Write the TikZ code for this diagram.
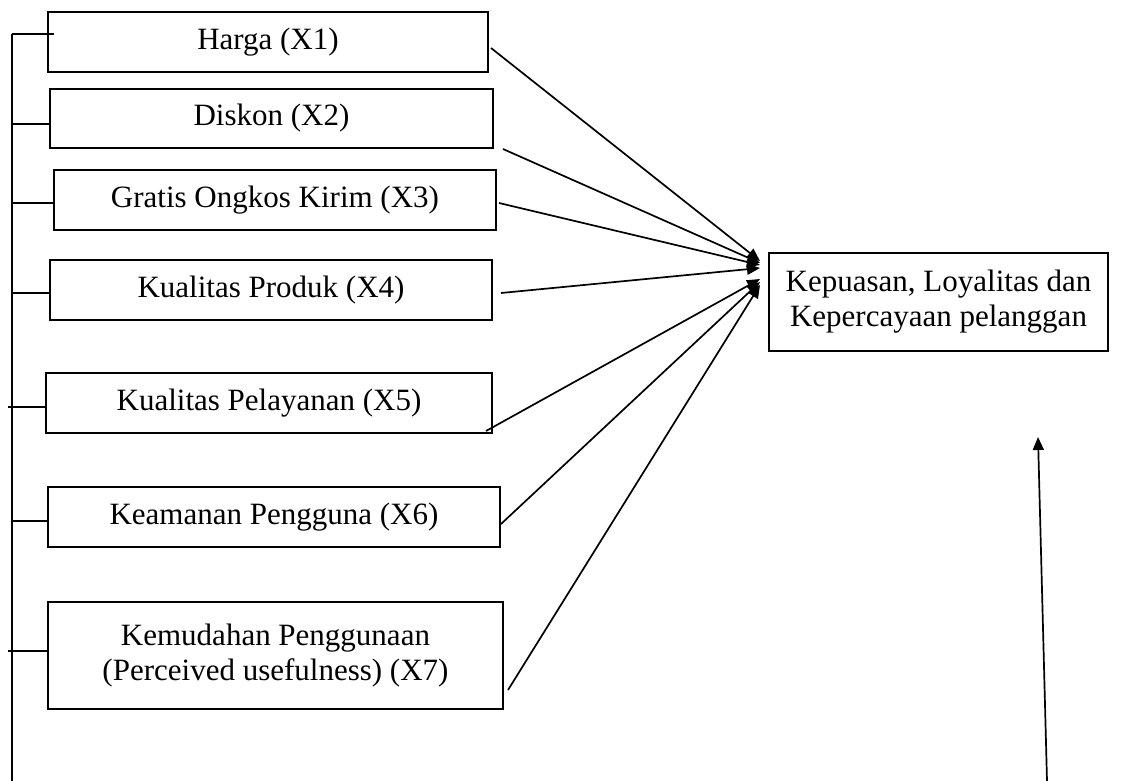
\documentclass[tikz,border=0pt]{standalone}
\usepackage{fontspec}
\setmainfont{Liberation Serif}
\usetikzlibrary{arrows.meta,calc}
\begin{document}
\begin{tikzpicture}[x=1pt,y=-1pt,
  box/.style={draw,line width=2pt,minimum height=60pt,inner sep=0pt,align=center,font=\fontsize{31}{35}\selectfont},
  link/.style={line width=1.8pt},
  conn/.style={line width=1.7pt,-{Triangle[length=13pt,width=11pt]}}]
\useasboundingbox (0,0) rectangle (1138,781);
% input boxes
\node[box,minimum width=440pt] (x1) at (268,42) {Harga (X1)};
\node[box,minimum width=443pt,minimum height=59pt] (x2) at (271.5,118.5) {Diskon (X2)};
\node[box,minimum width=442pt] (x3) at (275,200) {Gratis Ongkos Kirim (X3)};
\node[box,minimum width=442pt] (x4) at (271,290) {Kualitas Produk (X4)};
\node[box,minimum width=446pt] (x5) at (269,403) {Kualitas Pelayanan (X5)};
\node[box,minimum width=452pt] (x6) at (274,517) {Keamanan Pengguna (X6)};
\node[box,minimum width=455pt,minimum height=107pt] (x7) at (275.5,655.5) {Kemudahan Penggunaan\\(Perceived usefulness) (X7)};
% target box
\node[box,minimum width=339pt,minimum height=98pt] (y) at (938.5,302) {Kepuasan, Loyalitas dan\\Kepercayaan pelanggan};
% spine
\coordinate (s0) at (12,34);
\coordinate (s8) at (12,781);
\coordinate (s2) at (12,124);
\coordinate (s3) at (12,203);
\coordinate (s4) at (12,293);
\coordinate (s5) at (12,407);
\coordinate (s6) at (12,521);
\coordinate (s7) at (12,651);
\draw[link] (s0) -- (s8);
\draw[link] (s0) -- ([xshift=7pt]x1.west |- s0);
\draw[link] (s2) -- (x2.west |- s2);
\draw[link] (s3) -- (x3.west |- s3);
\draw[link] (s4) -- (x4.west |- s4);
\draw[link] ([xshift=-4pt]s5) -- (x5.west |- s5);
\draw[link] (s6) -- (x6.west |- s6);
\draw[link] ([xshift=-4pt]s7) -- (x7.west |- s7);
% arrow end points at target
\coordinate (t1) at ([shift={(-8,-41)}]y.west);
\coordinate (t2) at ([shift={(-8,-39)}]y.west);
\coordinate (t3) at ([shift={(-8,-37)}]y.west);
\coordinate (t4) at ([shift={(-8,-34)}]y.west);
\coordinate (t5) at ([shift={(-8,-23)}]y.west);
\coordinate (t6) at ([shift={(-8,-20)}]y.west);
\coordinate (t7) at ([shift={(-8,-17)}]y.west);
\draw[conn] ([shift={(2,6)}]x1.east) -- (t1);
\draw[conn] ([shift={(9,0)}]x2.south east) -- (t2);
\draw[conn] ([shift={(2,3)}]x3.east) -- (t3);
\draw[conn] ([shift={(8,3)}]x4.east) -- (t4);
\draw[conn] ([shift={(-7,-3)}]x5.south east) -- (t5);
\draw[conn] ([shift={(0,7)}]x6.east) -- (t6);
\draw[conn] ([shift={(4,-20)}]x7.south east) -- (t7);
% bottom arrow
\coordinate (b0) at (1047,781);
\coordinate (b1) at (1038,437);
\draw[conn] (b0) -- (b1);
\end{tikzpicture}
\end{document}
